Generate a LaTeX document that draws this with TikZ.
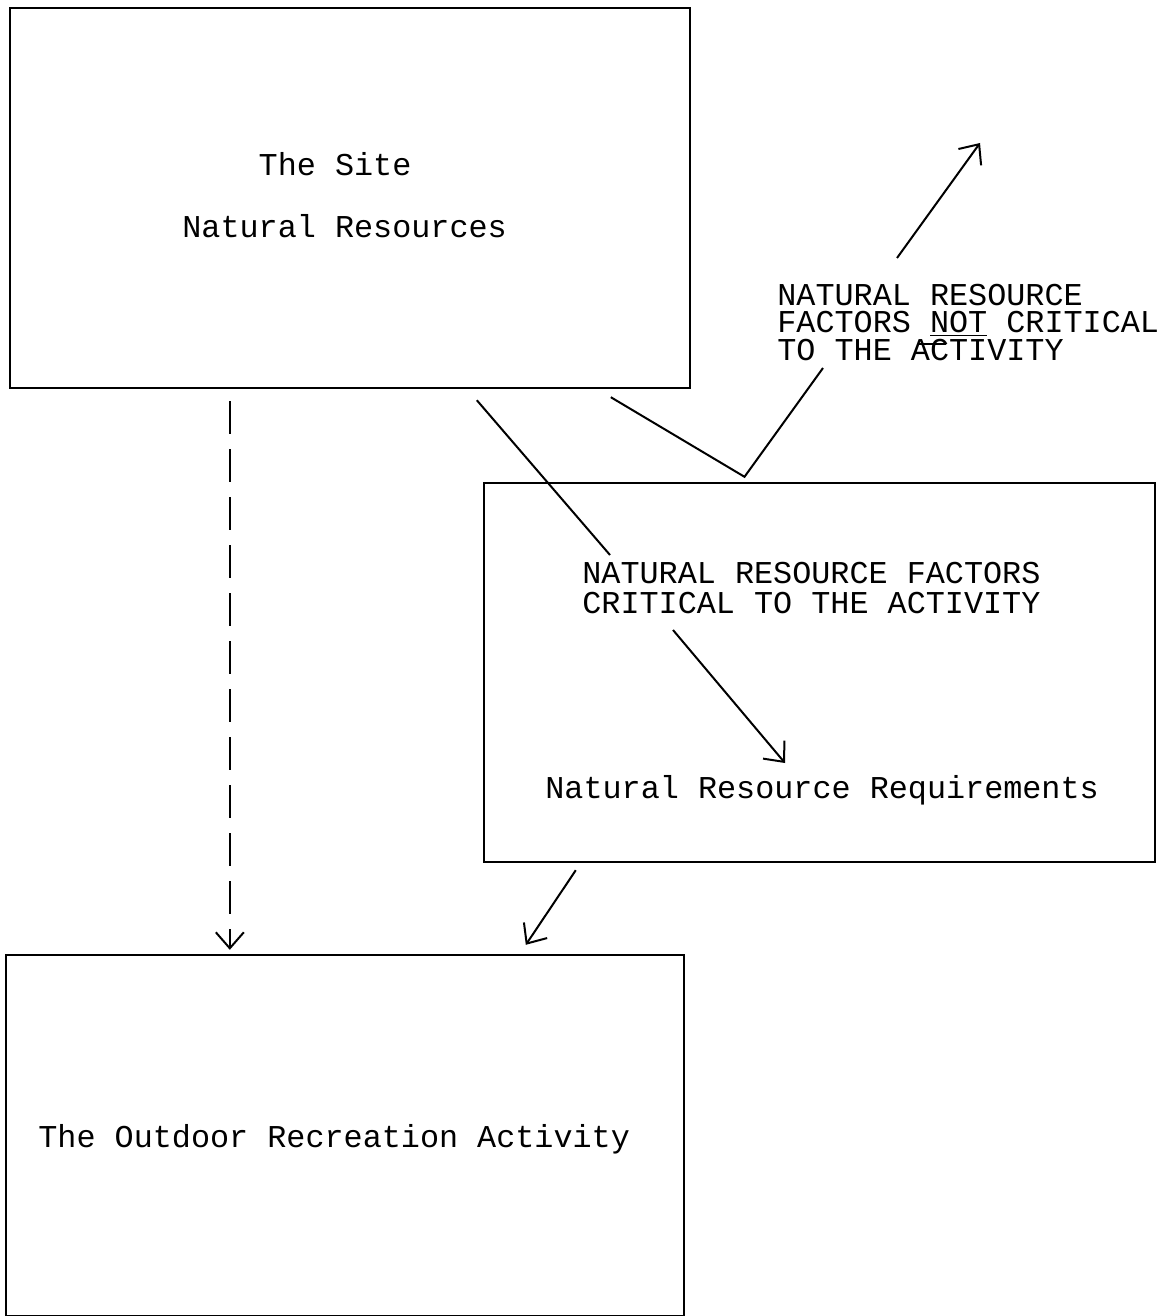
\documentclass[tikz,border=0pt]{standalone}
\usepackage{fontspec}
\usepackage{tikz}
\usetikzlibrary{calc}
\usetikzlibrary {arrows.meta}
\newfontfamily\typewr{Liberation Mono}

\tikzset{
  box/.style={draw, line width=1.2pt, rectangle, inner sep=0pt},
  tw/.style={font=\typewr\fontsize{15.9}{#1}\selectfont, inner sep=0pt, anchor=base west, align=left},
  tw/.default=19,
  link/.style={line width=1pt},
  barb/.style={-{Straight Barb[length=8pt,width=14pt]}}
}

\begin{document}
\begin{tikzpicture}[x=0.5pt, y=-0.5pt]
  \useasboundingbox (0,0) rectangle (1171,1316);

  \node[box, minimum width=340pt, minimum height=190pt] (site) at (350,198) {};
  \node[box, minimum width=335.5pt, minimum height=189.5pt] (reqbox) at (819.5,672.5) {};
  \node[box, minimum width=339pt, minimum height=180.5pt] (act) at (345,1135.5) {};

  % base is the last line of each text
  \node[tw=31.5] (sitetxt) at (182,238) {\phantom{Natu}The Site\\Natural Resources};
  \node[tw=15] (crit) at (582,613) {NATURAL RESOURCE FACTORS\\CRITICAL TO THE ACTIVITY};
  \node[tw=13.75] (notcrit) at (777,360) {NATURAL RESOURCE\\FACTORS \underline{NOT} CRITICAL\\TO THE ACTIVITY};
  \node[tw] (reqs) at (545,798) {Natural Resource Requirements};
  \node[tw] (acttxt) at (38,1147) {The Outdoor Recreation Activity};

  \coordinate (vtip) at ($(reqbox.north)+(-75,-5)$);
  \coordinate (away) at (980,143);

  % critical factors
  \draw[link] ($(site.south west)+(468,11)$) -- ($(crit.base west)+(28,-58)$);
  \draw[link, barb] ($(crit.base west)+(91,17)$) -- ($(reqs.base west)+(240,-35)$);

  % factors not critical
  \draw[link] ($(site.south west)+(602,8)$) -- (vtip) -- ($(notcrit.base west)+(46,8)$);
  \draw[link, barb] ($(notcrit.base west)+(120,-102)$) -- (away);
  \draw[link] ($(notcrit.base west)+(141,-16)$) -- +(28,0);

  % into the activity
  \draw[link, barb, dash pattern=on 16.5pt off 7.5pt] ($(site.south west)+(221,12)$) -- ($(act.north west)+(225,-4)$);
  \draw[link, barb] ($(reqbox.south west)+(93,7)$) -- ($(act.north west)+(521,-9)$);
\end{tikzpicture}
\end{document}
